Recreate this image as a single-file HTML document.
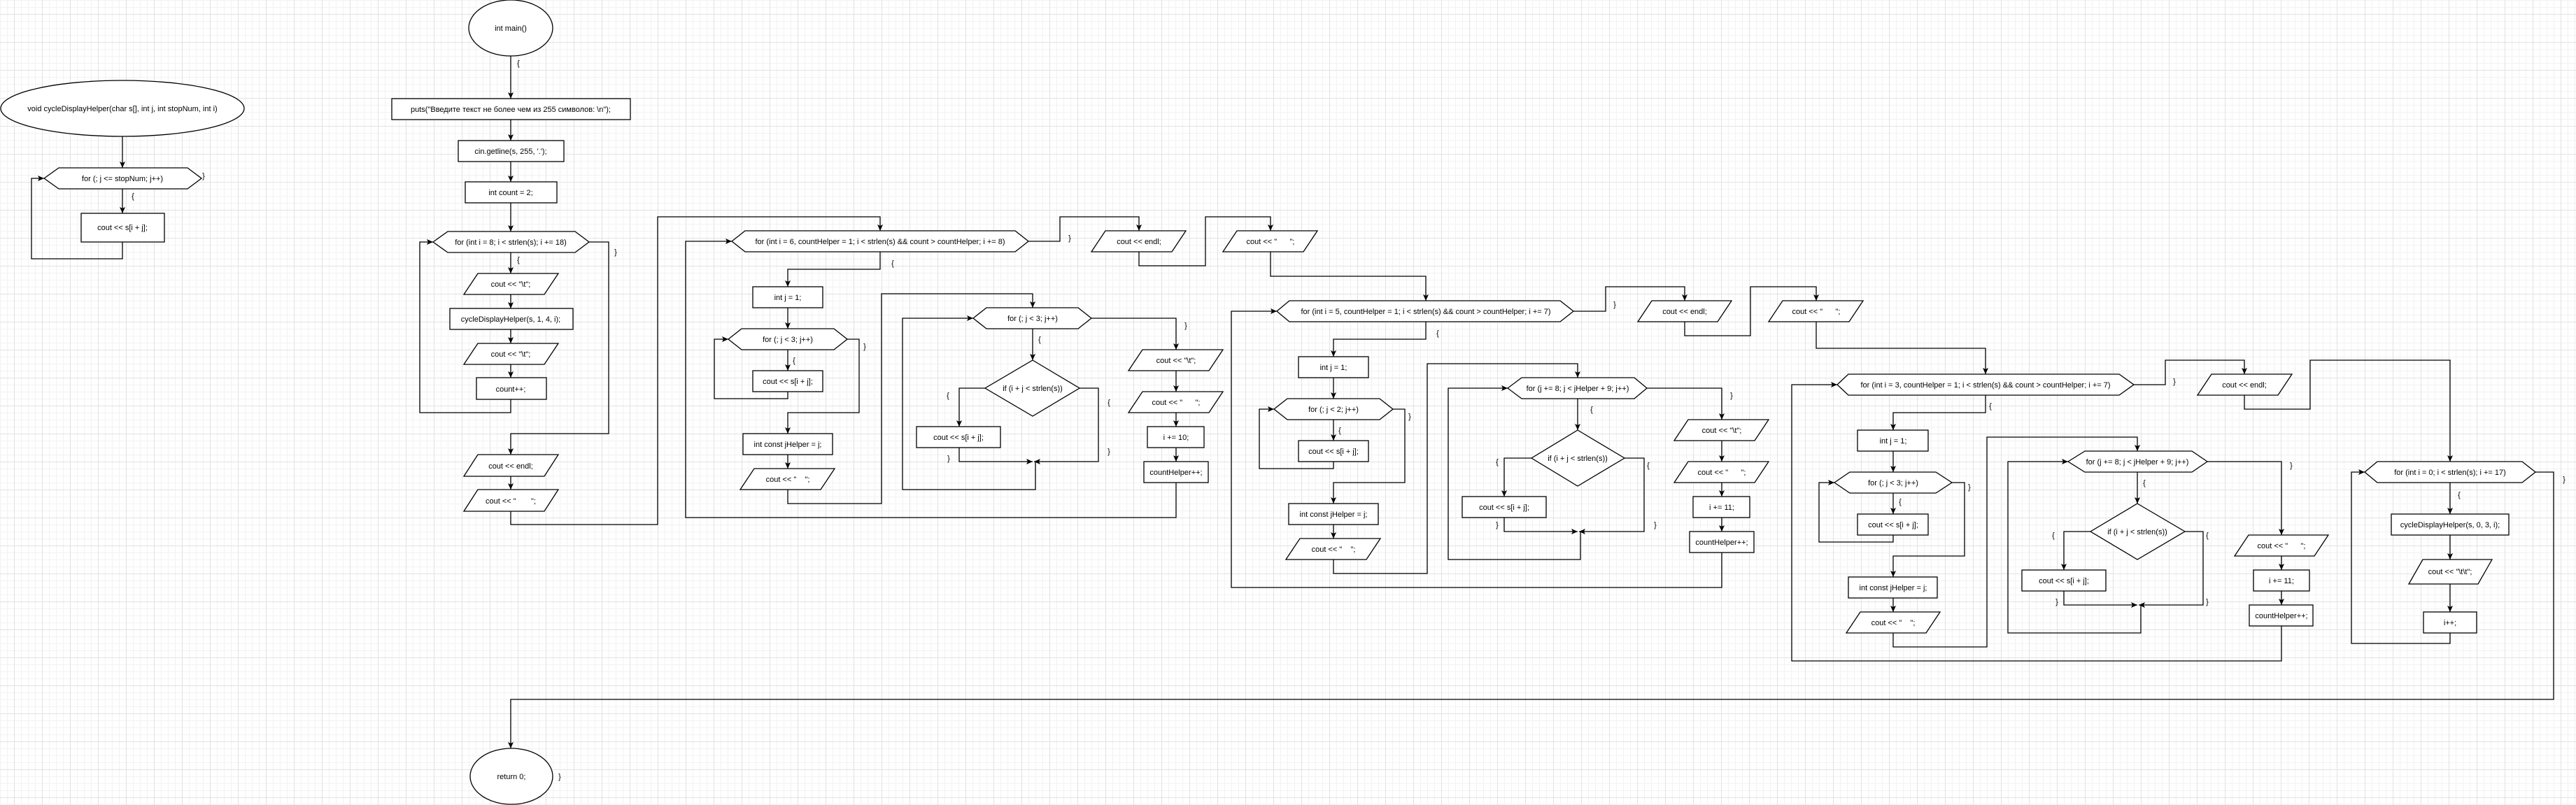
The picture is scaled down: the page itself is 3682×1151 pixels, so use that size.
<!DOCTYPE html>
<html><head><meta charset="utf-8">
<style>
html,body{margin:0;padding:0;}
body{width:3682px;height:1151px;overflow:hidden;background-color:#fff;
background-image:
linear-gradient(#e2e2e2 1px,transparent 1px),
linear-gradient(90deg,#e2e2e2 1px,transparent 1px),
linear-gradient(#f2f2f2 1px,transparent 1px),
linear-gradient(90deg,#f2f2f2 1px,transparent 1px);
background-size:40px 40px,40px 40px,10px 10px,10px 10px;
background-position:0 20px,20px 0,0 0,0 0;}
svg{position:absolute;left:0;top:0;}
text{font-family:"Liberation Sans","Noto Sans CJK SC",sans-serif;font-size:11px;fill:#000;text-anchor:middle;white-space:pre;}
.s{fill:#fff;stroke:#000;stroke-width:1.3;}
.l{fill:none;stroke:#000;stroke-width:1.3;}
</style></head><body>
<svg width="3682" height="1151" viewBox="0 0 3682 1151" xmlns="http://www.w3.org/2000/svg">
<defs><marker id="a" markerUnits="userSpaceOnUse" markerWidth="10" markerHeight="10" refX="9" refY="5" orient="auto"><path d="M0,1 L9,5 L0,9 L2,5 z" fill="#000"/></marker></defs>

<!-- connectors -->
<g class="l" marker-end="url(#a)">
<polyline points="175,195 175,240"/>
<polyline points="175,270 175,305"/>
<polyline points="175,346 175,370 45,370 45,255 63,255"/>
<polyline points="730,80 730,141"/>
<polyline points="730,171 730,201"/>
<polyline points="730,231 730,260"/>
<polyline points="730,290 730,331"/>
<polyline points="730,361 730,391"/>
<polyline points="730,421 730,441"/>
<polyline points="730,471 730,491"/>
<polyline points="730,521 730,540"/>
<polyline points="730,571 730,590 600,590 600,346 619,346"/>
<polyline points="842,346 870,346 870,620 730,620 730,650"/>
<polyline points="730,681 730,700"/>
<polyline points="730,731 730,750 940,750 940,310 1258,310 1258,330"/>
<polyline points="1470,345 1515,345 1515,310 1628,310 1628,330"/>
<polyline points="1628,360 1628,380 1723,380 1723,310 1816,310 1816,330"/>
<polyline points="1816,360 1816,395 2038,395 2038,430"/>
<polyline points="1258,360 1258,385 1126,385 1126,410"/>
<polyline points="1126,440 1126,470"/>
<polyline points="1126,500 1126,530"/>
<polyline points="1126,560 1126,570 1021,570 1021,485 1041,485"/>
<polyline points="1211,485 1228,485 1228,590 1126,590 1126,620"/>
<polyline points="1126,650 1126,670"/>
<polyline points="1126,700 1126,720 1260,720 1260,420 1476,420 1476,440"/>
<polyline points="1476,470 1476,515"/>
<polyline points="1408,555 1371,555 1371,610"/>
<polyline points="1371,640 1371,660 1476,660"/>
<polyline points="1543,555 1570,555 1570,660 1478,660"/>
<polyline points="1480,660 1480,700 1290,700 1290,455 1391,455"/>
<polyline points="1560,455 1681,455 1681,500"/>
<polyline points="1681,530 1681,560"/>
<polyline points="1681,590 1681,610"/>
<polyline points="1681,640 1681,660"/>
<polyline points="1681,690 1681,740 980,740 980,345 1046,345"/>
<polyline points="2249,445 2295,445 2295,410 2408,410 2408,430"/>
<polyline points="2408,460 2408,480 2502,480 2502,410 2596,410 2596,430"/>
<polyline points="2596,460 2596,498 2838,498 2838,535"/>
<polyline points="2038,460 2038,485 1906,485 1906,510"/>
<polyline points="1906,540 1906,570"/>
<polyline points="1906,600 1906,630"/>
<polyline points="1906,660 1906,670 1800,670 1800,585 1821,585"/>
<polyline points="1991,585 2008,585 2008,690 1906,690 1906,720"/>
<polyline points="1906,750 1906,770"/>
<polyline points="1906,800 1906,820 2040,820 2040,520 2255,520 2255,540"/>
<polyline points="2255,570 2255,615"/>
<polyline points="2189,655 2150,655 2150,710"/>
<polyline points="2150,740 2150,760 2255,760"/>
<polyline points="2322,655 2350,655 2350,760 2257,760"/>
<polyline points="2259,760 2259,800 2070,800 2070,555 2155,555"/>
<polyline points="2354,555 2461,555 2461,600"/>
<polyline points="2461,630 2461,660"/>
<polyline points="2461,690 2461,710"/>
<polyline points="2461,740 2461,760"/>
<polyline points="2461,790 2461,840 1760,840 1760,445 1825,445"/>
<polyline points="3050,550 3095,550 3095,515 3208,515 3208,535"/>
<polyline points="3208,565 3208,585 3302,585 3302,515 3502,515 3502,660"/>
<polyline points="2838,565 2838,590 2706,590 2706,615"/>
<polyline points="2706,645 2706,675"/>
<polyline points="2706,705 2706,735"/>
<polyline points="2706,765 2706,775 2600,775 2600,690 2622,690"/>
<polyline points="2790,690 2808,690 2808,795 2706,795 2706,825"/>
<polyline points="2706,855 2706,875"/>
<polyline points="2706,905 2706,925 2840,925 2840,625 3055,625 3055,645"/>
<polyline points="3055,675 3055,720"/>
<polyline points="2988,760 2950,760 2950,815"/>
<polyline points="2950,845 2950,865 3055,865"/>
<polyline points="3123,760 3149,760 3149,865 3057,865"/>
<polyline points="3060,865 3060,905 2870,905 2870,660 2956,660"/>
<polyline points="3155,660 3261,660 3261,765"/>
<polyline points="3261,795 3261,815"/>
<polyline points="3261,845 3261,865"/>
<polyline points="3261,895 3261,945 2561,945 2561,550 2626,550"/>
<polyline points="3502,690 3502,735"/>
<polyline points="3502,765 3502,800"/>
<polyline points="3502,835 3502,875"/>
<polyline points="3502,905 3502,920 3361,920 3361,675 3380,675"/>
<polyline points="3624,675 3650,675 3650,1000 730,1000 730,1070"/>
</g>

<!-- shapes -->
<g class="s">
<ellipse cx="175" cy="155" rx="174" ry="40"/>
<polygon points="63,255 84,240 268,240 288,255 268,270 84,270"/>
<rect x="116" y="305" width="119" height="41"/>
<ellipse cx="730" cy="40" rx="60" ry="40"/>
<rect x="560" y="141" width="341" height="30"/>
<rect x="655" y="201" width="151" height="30"/>
<rect x="665" y="260" width="131" height="30"/>
<polygon points="619,346 640,331 822,331 842,346 822,361 640,361"/>
<polygon points="683,391 798,391 778,421 663,421"/>
<rect x="643" y="441" width="176" height="30"/>
<polygon points="683,491 798,491 778,521 663,521"/>
<rect x="681" y="540" width="100" height="31"/>
<polygon points="683,650 798,650 778,681 663,681"/>
<polygon points="683,700 798,700 778,731 663,731"/>

<polygon points="1046,345 1065,330 1451,330 1470,345 1451,360 1065,360"/>
<polygon points="1580,330 1695,330 1675,360 1560,360"/>
<polygon points="1768,330 1883,330 1863,360 1748,360"/>
<rect x="1076" y="410" width="100" height="30"/>
<polygon points="1041,485 1060,470 1192,470 1211,485 1192,500 1060,500"/>
<rect x="1076" y="530" width="100" height="30"/>
<rect x="1062" y="620" width="128" height="30"/>
<polygon points="1078,670 1193,670 1173,700 1058,700"/>
<polygon points="1391,455 1410,440 1541,440 1560,455 1541,470 1410,470"/>
<polygon points="1476,515 1543,555 1476,595 1408,555"/>
<rect x="1310" y="610" width="120" height="30"/>
<polygon points="1633,500 1748,500 1728,530 1613,530"/>
<polygon points="1633,560 1748,560 1728,590 1613,590"/>
<rect x="1640" y="610" width="81" height="30"/>
<rect x="1635" y="660" width="92" height="30"/>

<polygon points="1825,445 1843,430 2230,430 2249,445 2230,460 1843,460"/>
<polygon points="2361,430 2475,430 2455,460 2341,460"/>
<polygon points="2548,430 2663,430 2643,460 2528,460"/>
<rect x="1856" y="510" width="100" height="30"/>
<polygon points="1821,585 1840,570 1972,570 1991,585 1972,600 1840,600"/>
<rect x="1856" y="630" width="100" height="30"/>
<rect x="1842" y="720" width="128" height="30"/>
<polygon points="1858,770 1973,770 1953,800 1838,800"/>
<polygon points="2155,555 2175,540 2336,540 2354,555 2336,570 2175,570"/>
<polygon points="2255,615 2322,655 2255,695 2189,655"/>
<rect x="2090" y="710" width="120" height="30"/>
<polygon points="2413,600 2528,600 2508,630 2393,630"/>
<polygon points="2413,660 2528,660 2508,690 2393,690"/>
<rect x="2420" y="710" width="81" height="30"/>
<rect x="2415" y="760" width="92" height="30"/>

<polygon points="2626,550 2642,535 3029,535 3050,550 3029,565 2642,565"/>
<polygon points="3161,535 3276,535 3256,565 3141,565"/>
<rect x="2655" y="615" width="101" height="30"/>
<polygon points="2622,690 2644,675 2767,675 2790,690 2767,705 2644,705"/>
<rect x="2655" y="735" width="101" height="30"/>
<rect x="2642" y="825" width="127" height="30"/>
<polygon points="2659,875 2773,875 2753,905 2639,905"/>
<polygon points="2956,660 2980,645 3133,645 3155,660 3133,675 2980,675"/>
<polygon points="3055,720 3123,760 3055,800 2988,760"/>
<rect x="2890" y="815" width="120" height="30"/>
<polygon points="3214,765 3328,765 3308,795 3194,795"/>
<rect x="3221" y="815" width="80" height="30"/>
<rect x="3215" y="865" width="91" height="30"/>

<polygon points="3380,675 3398,660 3605,660 3624,675 3605,690 3398,690"/>
<rect x="3418" y="735" width="168" height="30"/>
<polygon points="3463,800 3562,800 3542,835 3443,835"/>
<rect x="3464" y="875" width="76" height="30"/>
<ellipse cx="731" cy="1110" rx="59" ry="40"/>
</g>

<!-- labels -->
<g>
<text x="175" y="159">void cycleDisplayHelper(char s[], int j, int stopNum, int i)</text>
<text x="175" y="259">for (; j &lt;= stopNum; j++)</text>
<text x="175" y="329">cout &lt;&lt; s[i + j];</text>
<text x="291" y="255">}</text><text x="190" y="284">{</text>

<text x="730" y="44">int main()</text>
<text x="741" y="94">{</text>
<text x="730" y="160">puts("Введите текст не более чем из 255 символов: \n");</text>
<text x="730" y="220">cin.getline(s, 255, '.');</text>
<text x="730" y="279">int count = 2;</text>
<text x="730" y="350">for (int i = 8; i &lt; strlen(s); i += 18)</text>
<text x="741" y="375">{</text><text x="880" y="364">}</text>
<text x="730" y="410">cout &lt;&lt; "\t";</text>
<text x="730" y="460">cycleDisplayHelper(s, 1, 4, i);</text>
<text x="730" y="510">cout &lt;&lt; "\t";</text>
<text x="730" y="560">count++;</text>
<text x="730" y="670">cout &lt;&lt; endl;</text>
<text x="730" y="720">cout &lt;&lt; "       ";</text>

<text x="1258" y="349">for (int i = 6, countHelper = 1; i &lt; strlen(s) &amp;&amp; count &gt; countHelper; i += 8)</text>
<text x="1529" y="344">}</text>
<text x="1628" y="349">cout &lt;&lt; endl;</text>
<text x="1816" y="349">cout &lt;&lt; "      ";</text>
<text x="1276" y="380">{</text>
<text x="1126" y="429">int j = 1;</text>
<text x="1126" y="489">for (; j &lt; 3; j++)</text>
<text x="1135" y="519">{</text>
<text x="1126" y="549">cout &lt;&lt; s[i + j];</text>
<text x="1236" y="499">}</text>
<text x="1126" y="639">int const jHelper = j;</text>
<text x="1126" y="689">cout &lt;&lt; "    ";</text>
<text x="1476" y="459">for (; j &lt; 3; j++)</text>
<text x="1486" y="489">{</text>
<text x="1476" y="559">if (i + j &lt; strlen(s))</text>
<text x="1355" y="569">{</text>
<text x="1370" y="629">cout &lt;&lt; s[i + j];</text>
<text x="1585" y="579">{</text><text x="1585" y="649">}</text><text x="1356" y="659">}</text>
<text x="1695" y="469">}</text>
<text x="1681" y="519">cout &lt;&lt; "\t";</text>
<text x="1681" y="579">cout &lt;&lt; "      ";</text>
<text x="1681" y="629">i += 10;</text>
<text x="1681" y="679">countHelper++;</text>

<text x="2038" y="449">for (int i = 5, countHelper = 1; i &lt; strlen(s) &amp;&amp; count &gt; countHelper; i += 7)</text>
<text x="2308" y="439">}</text>
<text x="2408" y="449">cout &lt;&lt; endl;</text>
<text x="2596" y="449">cout &lt;&lt; "      ";</text>
<text x="2055" y="480">{</text>
<text x="1906" y="529">int j = 1;</text>
<text x="1906" y="589">for (; j &lt; 2; j++)</text>
<text x="1915" y="619">{</text>
<text x="1906" y="649">cout &lt;&lt; s[i + j];</text>
<text x="2015" y="599">}</text>
<text x="1906" y="739">int const jHelper = j;</text>
<text x="1906" y="789">cout &lt;&lt; "    ";</text>
<text x="2255" y="559">for (j += 8; j &lt; jHelper + 9; j++)</text>
<text x="2275" y="589">{</text>
<text x="2255" y="659">if (i + j &lt; strlen(s))</text>
<text x="2140" y="664">{</text>
<text x="2150" y="729">cout &lt;&lt; s[i + j];</text>
<text x="2356" y="669">{</text><text x="2366" y="754">}</text><text x="2140" y="754">}</text>
<text x="2475" y="569">}</text>
<text x="2461" y="619">cout &lt;&lt; "\t";</text>
<text x="2461" y="679">cout &lt;&lt; "      ";</text>
<text x="2461" y="729">i += 11;</text>
<text x="2461" y="779">countHelper++;</text>

<text x="2838" y="554">for (int i = 3, countHelper = 1; i &lt; strlen(s) &amp;&amp; count &gt; countHelper; i += 7)</text>
<text x="3108" y="549">}</text>
<text x="3208" y="554">cout &lt;&lt; endl;</text>
<text x="2845" y="584">{</text>
<text x="2706" y="634">int j = 1;</text>
<text x="2706" y="694">for (; j &lt; 3; j++)</text>
<text x="2716" y="721">{</text>
<text x="2706" y="754">cout &lt;&lt; s[i + j];</text>
<text x="2815" y="700">}</text>
<text x="2706" y="844">int const jHelper = j;</text>
<text x="2706" y="894">cout &lt;&lt; "    ";</text>
<text x="3055" y="664">for (j += 8; j &lt; jHelper + 9; j++)</text>
<text x="3065" y="694">{</text>
<text x="3055" y="764">if (i + j &lt; strlen(s))</text>
<text x="2935" y="769">{</text>
<text x="2950" y="834">cout &lt;&lt; s[i + j];</text>
<text x="3155" y="769">{</text><text x="3155" y="864">}</text><text x="2940" y="864">}</text>
<text x="3275" y="669">}</text>
<text x="3261" y="784">cout &lt;&lt; "      ";</text>
<text x="3261" y="834">i += 11;</text>
<text x="3261" y="884">countHelper++;</text>

<text x="3502" y="679">for (int i = 0; i &lt; strlen(s); i += 17)</text>
<text x="3665" y="689">}</text>
<text x="3515" y="711">{</text>
<text x="3502" y="754">cycleDisplayHelper(s, 0, 3, i);</text>
<text x="3502" y="821">cout &lt;&lt; "\t\t";</text>
<text x="3502" y="894">i++;</text>
<text x="731" y="1114">return 0;</text>
<text x="800" y="1114">}</text>
</g>
</svg>
</body></html>
